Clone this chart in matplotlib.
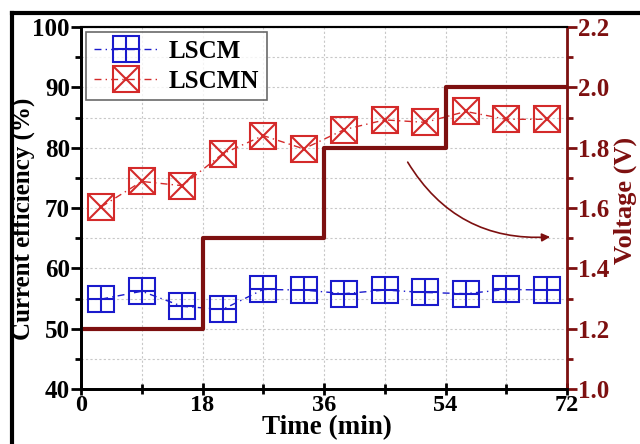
import matplotlib
matplotlib.use("Agg")
import matplotlib.pyplot as plt
from matplotlib.lines import Line2D
from matplotlib.ticker import MultipleLocator
from matplotlib.legend_handler import HandlerTuple

plt.rcParams['font.family'] = ['Liberation Serif', 'DejaVu Serif']
plt.rcParams['font.weight'] = 'bold'

time_pts = [3, 9, 15, 21, 27, 33, 39, 45, 51, 57, 63, 69]
lscm = [54.9, 56.2, 53.7, 53.2, 56.5, 56.4, 55.8, 56.4, 56.0, 55.8, 56.5, 56.4]
lscmn = [70.2, 74.4, 73.7, 79.0, 82.0, 79.8, 83.0, 84.6, 84.2, 86.0, 84.7, 84.7]
step_time = [0, 18, 36, 54, 72]
step_volt = [1.2, 1.5, 1.8, 2.0, 2.0]

blue = '#1a1acc'
red = '#d42a2a'
dred = '#7d1010'

fig = plt.figure(figsize=(6.4, 4.44), dpi=100)
ax = fig.add_axes([81/640, 1-389/444, (567-81)/640, (389-27)/444])
ax2 = ax.twinx()

ax.set_xlim(0, 72)
ax.set_ylim(40, 100)
ax2.set_ylim(1.0, 2.2)

ax.xaxis.set_major_locator(MultipleLocator(18))
ax.xaxis.set_minor_locator(MultipleLocator(9))
ax.yaxis.set_major_locator(MultipleLocator(10))
ax.yaxis.set_minor_locator(MultipleLocator(5))
ax2.yaxis.set_major_locator(MultipleLocator(0.2))
ax2.yaxis.set_minor_locator(MultipleLocator(0.1))

ax.grid(True, which='both', color='#c8c8c8', linestyle=(0, (2, 2)), linewidth=0.8)
ax.set_axisbelow(True)

ms = 19
l1, = ax.plot(time_pts, lscm, linestyle=(0, (5, 3, 1, 3)), color=blue, lw=1.0,
              marker='s', ms=ms, mfc='none', mec=blue, mew=1.5)
p1, = ax.plot(time_pts, lscm, linestyle='none', marker='+', ms=ms, mec=blue, mew=1.5)
l2, = ax.plot(time_pts, lscmn, linestyle=(0, (5, 3, 1, 3)), color=red, lw=1.0,
              marker='s', ms=ms, mfc='none', mec=red, mew=1.5)
p2, = ax.plot(time_pts, lscmn, linestyle='none', marker='x', ms=ms*0.92, mec=red, mew=1.5)

ax2.plot(step_time, step_volt, drawstyle='steps-post', color=dred, lw=3.0)

ax.annotate('', xy=(69.5, 65.2), xytext=(48.4, 77.6),
            arrowprops=dict(arrowstyle='-|>', color=dred, lw=1.2,
                            connectionstyle='arc3,rad=0.3', mutation_scale=12,
                            shrinkA=0, shrinkB=0))

for s in ['left', 'bottom']:
    ax.spines[s].set_linewidth(2.0)
ax.spines['top'].set_linewidth(1.5)
ax2.spines['right'].set_color(dred)
ax2.spines['right'].set_linewidth(2.0)
ax2.spines['top'].set_linewidth(1.5)
ax2.spines['left'].set_linewidth(2.0)
ax2.spines['bottom'].set_linewidth(2.0)

ax.tick_params(axis='y', which='major', direction='out', length=7, width=2,
               labelsize=18, pad=1)
ax.tick_params(axis='y', which='minor', direction='out', length=4, width=2)
ax.tick_params(axis='x', which='major', direction='inout', length=9, width=2,
               labelsize=17.5, pad=0)
ax.tick_params(axis='x', which='minor', direction='inout', length=7, width=2)
ax2.tick_params(axis='y', which='major', direction='out', length=7, width=2,
                labelsize=18, colors=dred, pad=1)
ax2.tick_params(axis='y', which='minor', direction='out', length=4, width=2, colors=dred)

for lab in ax.get_xticklabels() + ax.get_yticklabels() + ax2.get_yticklabels():
    lab.set_fontweight('bold')

ax.set_xlabel('Time (min)', fontsize=19.5, fontweight='bold')
ax.xaxis.set_label_coords(0.506, -0.072)
ax.set_ylabel('Current efficiency (%)', fontsize=18, fontweight='bold')
ax.yaxis.set_label_coords(-0.094, 0.4696)
ax2.set_ylabel('Voltage (V)', fontsize=19, fontweight='bold', color=dred)
ax2.yaxis.set_label_coords(1.095, 0.522)

leg = ax.legend([(l1, p1), (l2, p2)], ['LSCM', 'LSCMN'],
                handler_map={tuple: HandlerTuple(ndivide=1)},
                loc='upper left', fontsize=18, frameon=True, fancybox=False,
                edgecolor='#444444', borderaxespad=0.2, handlelength=2.6,
                handletextpad=0.4, borderpad=0.3, labelspacing=0.3)
leg.get_frame().set_linewidth(1.2)
for t in leg.get_texts():
    t.set_fontweight('bold')

fig.add_artist(Line2D([12/640, 12/640], [0, 1-13/444], transform=fig.transFigure,
                      color='black', lw=3))
fig.add_artist(Line2D([12/640, 1], [1-13/444, 1-13/444], transform=fig.transFigure,
                      color='black', lw=3))

fig.savefig('out.png', dpi=100)
